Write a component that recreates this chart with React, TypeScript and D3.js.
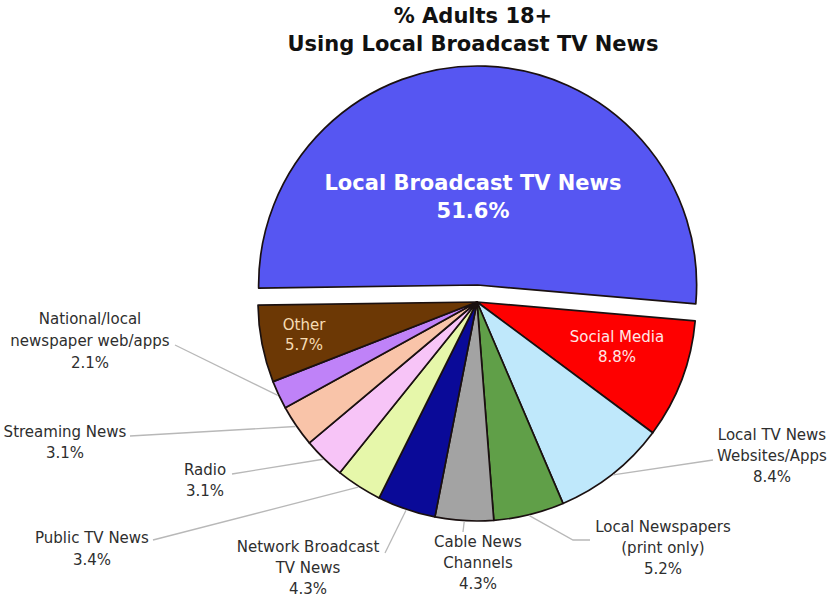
import React from "react";
import * as d3 from "d3";

const categories = [
  "Local Broadcast TV News",
  "Social Media",
  "Local TV News Websites/Apps",
  "Local Newspapers (print only)",
  "Cable News Channels",
  "Network Broadcast TV News",
  "Public TV News",
  "Radio",
  "Streaming News",
  "National/local newspaper web/apps",
  "Other",
];
const values = [51.6, 8.8, 8.4, 5.2, 4.3, 4.3, 3.4, 3.1, 3.1, 2.1, 5.7];
const colors = [
  "#5656f2", "#fe0000", "#bfe8fb", "#609f48", "#a3a3a3", "#0a0a98",
  "#e6f7aa", "#f7c4f7", "#f9c4a9", "#bf82f8", "#6c3805",
];
const titleLines = ["% Adults 18+", "Using Local Broadcast TV News"];

// label text lines (excluding the percentage)
const labelLines = [
  ["Local Broadcast TV News"],
  ["Social Media"],
  ["Local TV News", "Websites/Apps"],
  ["Local Newspapers", "(print only)"],
  ["Cable News", "Channels"],
  ["Network Broadcast", "TV News"],
  ["Public TV News"],
  ["Radio"],
  ["Streaming News"],
  ["National/local", "newspaper web/apps"],
  ["Other"],
];

// layout (annotation positions)
type Lay = { inside: boolean; x: number; y: number; lh: number; fs: number; color: string; bold?: boolean; leader?: [number, number][] };
const layout: Lay[] = [
  { inside: true, x: 473, y: 190, lh: 28, fs: 21, color: "#ffffff", bold: true },
  { inside: true, x: 617, y: 342, lh: 20, fs: 15, color: "#ffe6e6" },
  { inside: false, x: 772, y: 440, lh: 21, fs: 15, color: "#2e2e2e", leader: [[713, 460]] },
  { inside: false, x: 663, y: 532, lh: 21, fs: 15, color: "#2e2e2e", leader: [[590, 540], [573, 540]] },
  { inside: false, x: 478, y: 547, lh: 21, fs: 15, color: "#2e2e2e", leader: [[463, 532]] },
  { inside: false, x: 308, y: 552, lh: 21, fs: 15, color: "#2e2e2e", leader: [[385, 553]] },
  { inside: false, x: 92, y: 543, lh: 22, fs: 15, color: "#2e2e2e", leader: [[153, 540]] },
  { inside: false, x: 205, y: 475, lh: 21, fs: 15, color: "#2e2e2e", leader: [[232, 474]] },
  { inside: false, x: 65, y: 437, lh: 21, fs: 15, color: "#2e2e2e", leader: [[130, 436]] },
  { inside: false, x: 90, y: 324, lh: 22, fs: 15, color: "#2e2e2e", leader: [[175, 345]] },
  { inside: true, x: 304, y: 330, lh: 20, fs: 15, color: "#f6dcb4" },
];

const W = 832;
const H = 600;
const cx = 477;
const cy = 302;
const R = 219;
const explode = 17;
const font = "'DejaVu Sans', Verdana, sans-serif";

export default function App() {
  const pie = d3
    .pie<number>()
    .sort(null)
    .startAngle((-90.8 * Math.PI) / 180)
    .endAngle((269.2 * Math.PI) / 180);
  const arcs = pie(values);
  const arc = d3.arc<d3.PieArcDatum<number>>().innerRadius(0).outerRadius(R);

  return (
    <svg
      width={W}
      height={H}
      style={{ position: "absolute", left: 0, top: 0, background: "#fff" }}
      fontFamily={font}
    >
      {titleLines.map((t, i) => (
        <text key={t} x={473} y={23 + i * 28} textAnchor="middle" fontSize={21} fontWeight="bold" fill="#111">
          {t}
        </text>
      ))}
      {arcs.map((a, i) => {
        const mid = (a.startAngle + a.endAngle) / 2;
        const dx = i === 0 ? Math.sin(mid) * explode : 0;
        const dy = i === 0 ? -Math.cos(mid) * explode : 0;
        return (
          <path
            key={categories[i]}
            d={arc(a) || ""}
            transform={`translate(${cx + dx},${cy + dy})`}
            fill={colors[i]}
            stroke="#1a1010"
            strokeWidth={1.7}
            strokeLinejoin="round"
          />
        );
      })}
      {arcs.map((a, i) => {
        const L = layout[i];
        if (L.inside || !L.leader) return null;
        const mid = (a.startAngle + a.endAngle) / 2;
        const ex = cx + Math.sin(mid) * (R + 1);
        const ey = cy - Math.cos(mid) * (R + 1);
        const pts = [...L.leader, [ex, ey]];
        return (
          <polyline
            key={"l" + i}
            points={pts.map((p) => p.join(",")).join(" ")}
            fill="none"
            stroke="#b8b8b8"
            strokeWidth={1.3}
          />
        );
      })}
      {arcs.map((a, i) => {
        const L = layout[i];
        const lines = [...labelLines[i], `${values[i].toFixed(1)}%`];
        return (
          <text
            key={"t" + i}
            textAnchor="middle"
            fontSize={L.fs}
            fontWeight={L.bold ? "bold" : "normal"}
            fill={L.color}
          >
            {lines.map((ln, j) => (
              <tspan key={j} x={L.x} y={L.y + j * L.lh}>
                {ln}
              </tspan>
            ))}
          </text>
        );
      })}
    </svg>
  );
}
